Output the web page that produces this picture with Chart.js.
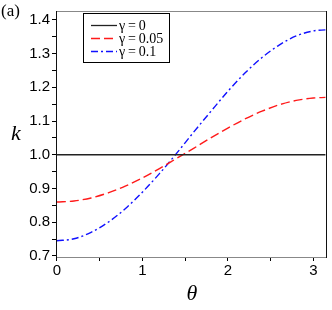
<!DOCTYPE html>
<html>
<head>
<meta charset="utf-8">
<script src="https://cdn.jsdelivr.net/npm/chart.js@4/dist/chart.umd.min.js"></script>
<style>
  html, body { margin: 0; padding: 0; background: #fff; }
  #wrap { width: 332px; height: 310px; }
</style>
</head>
<body>
<div id="wrap"><canvas id="chart" width="332" height="310"></canvas></div>
<script>
// values
const theta = [0, 0.2, 0.4, 0.6, 0.8, 1.0, 1.2, 1.4, 1.6, 1.8, 2.0, 2.2, 2.4, 2.6, 2.8, 3.0, 3.1416];
const kGamma0 = [1, 1, 1, 1, 1, 1, 1, 1, 1, 1, 1, 1, 1, 1, 1, 1, 1];
const kGamma005 = [0.860, 0.863, 0.872, 0.887, 0.907, 0.931, 0.959, 0.989, 1.019, 1.050, 1.079, 1.106, 1.129, 1.148, 1.161, 1.168, 1.170];
const kGamma01 = [0.745, 0.751, 0.770, 0.800, 0.840, 0.889, 0.944, 1.004, 1.067, 1.128, 1.188, 1.242, 1.288, 1.325, 1.352, 1.367, 1.370];
const seriesLabels = ['\u03b3\u2009=\u20090', '\u03b3\u2009=\u20090.05', '\u03b3\u2009=\u20090.1'];
const xTicks = [0, 0.5, 1, 1.5, 2, 2.5, 3];
const xLabels = ['0', '', '1', '', '2', '', '3'];
const yTicks = [0.7, 0.75, 0.8, 0.85, 0.9, 0.95, 1.0, 1.05, 1.1, 1.15, 1.2, 1.25, 1.3, 1.35, 1.4];
const yLabels = ['0.7', '', '0.8', '', '0.9', '', '1.0', '', '1.1', '', '1.2', '', '1.3', '', '1.4'];

const pts = arr => theta.map((t, i) => ({ x: t, y: arr[i] }));

// frame, legend box and free text
const decor = {
    id: 'decor',
    afterDraw(chart) {
        const { ctx, chartArea: a } = chart;
        ctx.save();
        // frame
        ctx.lineWidth = 1;
        ctx.strokeStyle = '#888';
        ctx.beginPath();
        ctx.moveTo(a.left, a.top + 0.5); ctx.lineTo(a.right, a.top + 0.5);
        ctx.moveTo(a.left, a.bottom + 0.5); ctx.lineTo(a.right, a.bottom + 0.5);
        ctx.stroke();
        ctx.strokeStyle = '#111';
        ctx.beginPath();
        ctx.moveTo(a.left + 0.5, a.top); ctx.lineTo(a.left + 0.5, a.bottom + 1);
        ctx.moveTo(a.right - 0.5, a.top); ctx.lineTo(a.right - 0.5, a.bottom + 1);
        ctx.stroke();

        // legend
        ctx.fillStyle = '#fff';
        ctx.fillRect(83, 13, 86, 50);
        ctx.strokeStyle = '#000';
        ctx.lineWidth = 1;
        ctx.strokeRect(83.5, 13.5, 86, 49);
        const rows = [25, 38, 51];
        chart.data.datasets.forEach((ds, i) => {
            ctx.strokeStyle = ds.borderColor;
            ctx.lineWidth = ds.borderWidth;
            ctx.setLineDash(ds.borderDash || []);
            ctx.beginPath();
            ctx.moveTo(91, rows[i] + 0.5);
            ctx.lineTo(117, rows[i] + 0.5);
            ctx.stroke();
            ctx.setLineDash([]);
            ctx.fillStyle = '#000';
            ctx.font = '14px "Liberation Serif", "DejaVu Serif", serif';
            ctx.textAlign = 'left';
            ctx.textBaseline = 'middle';
            ctx.fillText(ds.label, 119, rows[i] + 1);
        });

        // panel mark and axis names
        ctx.fillStyle = '#000';
        ctx.textBaseline = 'alphabetic';
        ctx.font = '17px "Liberation Serif", "DejaVu Serif", serif';
        ctx.fillText('(a)', 1, 16);
        ctx.font = 'italic 22px "Liberation Serif", "DejaVu Serif", serif';
        ctx.fillText('k', 11, 140);
        ctx.textAlign = 'center';
        ctx.fillText('\u03b8', 192, 300);
        ctx.restore();
    }
};

new Chart(document.getElementById('chart'), {
    type: 'line',
    plugins: [decor],
    data: {
        datasets: [
            {
                label: seriesLabels[0],
                data: pts(kGamma0),
                borderColor: '#222',
                borderWidth: 1.3,
                pointRadius: 0
            },
            {
                label: seriesLabels[1],
                data: pts(kGamma005),
                borderColor: '#ff1a1a',
                borderWidth: 1.4,
                borderDash: [9, 4],
                pointRadius: 0,
                cubicInterpolationMode: 'monotone'
            },
            {
                label: seriesLabels[2],
                data: pts(kGamma01),
                borderColor: '#1010ff',
                borderWidth: 1.4,
                borderDash: [7, 3, 2, 3],
                pointRadius: 0,
                cubicInterpolationMode: 'monotone'
            }
        ]
    },
    options: {
        responsive: false,
        animation: false,
        layout: { padding: { left: 0, top: 5, right: 5, bottom: 0 } },
        plugins: { legend: { display: false }, tooltip: { enabled: false } },
        scales: {
            x: {
                type: 'linear',
                min: -0.01,
                max: 3.16,
                afterBuildTicks: s => { s.ticks = xTicks.map(v => ({ value: v })); },
                afterFit: s => { s.height = 53; },
                border: { display: false },
                grid: { drawOnChartArea: false, drawTicks: true, tickLength: 4, color: '#000' },
                ticks: {
                    color: '#000',
                    padding: 1,
                    maxRotation: 0,
                    autoSkip: false,
                    font: { family: '"Liberation Sans", Arial, sans-serif', size: 15 },
                    callback: (v, i) => xLabels[i]
                }
            },
            y: {
                min: 0.697,
                max: 1.426,
                afterBuildTicks: s => { s.ticks = yTicks.map(v => ({ value: v })); },
                afterFit: s => { s.width = 56; },
                border: { display: false },
                grid: { drawOnChartArea: false, drawTicks: true, tickLength: 4, color: '#000' },
                ticks: {
                    color: '#000',
                    padding: 2,
                    autoSkip: false,
                    font: { family: '"Liberation Sans", Arial, sans-serif', size: 15 },
                    callback: (v, i) => yLabels[i]
                }
            }
        }
    }
});
</script>
</body>
</html>
